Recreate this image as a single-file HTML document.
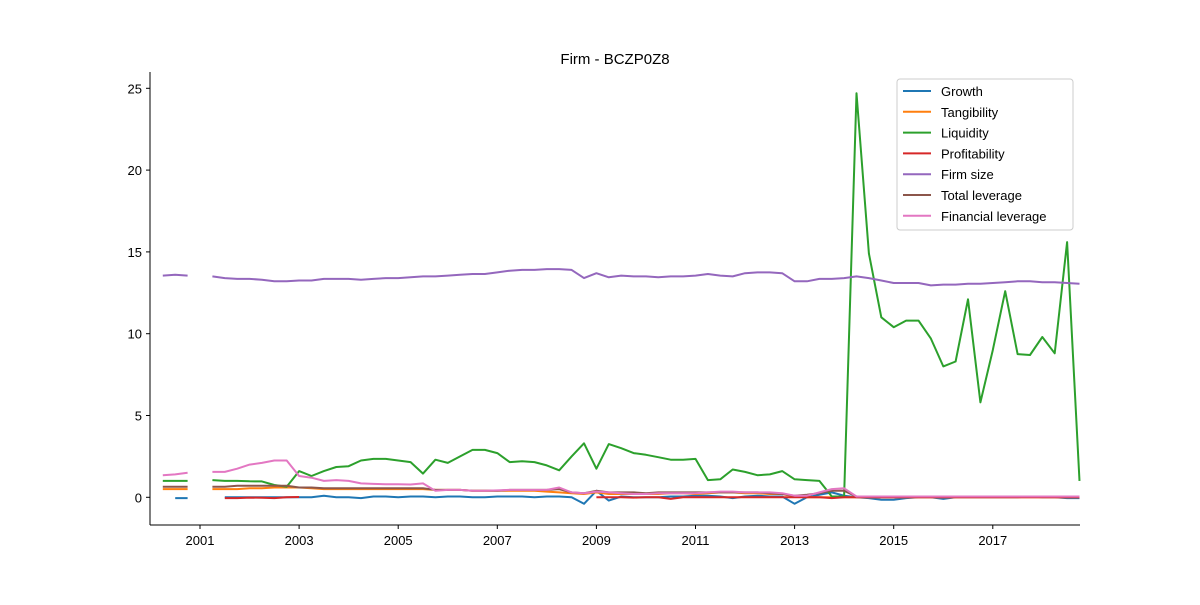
<!DOCTYPE html>
<html><head><meta charset="utf-8"><style>
body{margin:0;background:#fff;}
svg text{font-family:"Liberation Sans","DejaVu Sans",sans-serif;}
</style></head><body>
<svg id="chart" width="1200" height="600" xmlns="http://www.w3.org/2000/svg">
<rect width="1200" height="600" fill="#fff"/>
<text x="615" y="64" font-size="15" text-anchor="middle">Firm - BCZP0Z8</text>
<g id="plot"></g>
<g id="axes"></g>
<g id="legend"></g>
</svg>
<script>
const N = null;
const startYear = 2000.25;
const seriesNames = ["Growth","Tangibility","Liquidity","Profitability","Firm size","Total leverage","Financial leverage"];
const seriesColors = ["#1f77b4","#ff7f0e","#2ca02c","#d62728","#9467bd","#8c564b","#e377c2"];
const growth = [N,-0.05,-0.05,N,N,0,0,0,0,0,0,0,0,0.1,0,0,-0.05,0.05,0.05,0,0.05,0.05,0,0.05,0.05,0,0,0.05,0.05,0.05,0,0.05,0.05,0,-0.4,0.4,-0.2,0.05,0,0,0,0.05,0.05,0.1,0.1,0.05,-0.05,0.05,0.1,0.05,0.05,-0.4,0,0.15,0.3,0.1,0,-0.05,-0.15,-0.15,-0.05,0,0,-0.1,0,0,0,0,0,0,0.05,0,0,-0.05,-0.05];
const tangibility = [0.5,0.5,0.5,N,0.5,0.5,0.5,0.55,0.55,0.6,0.6,0.6,0.55,0.5,0.5,0.5,0.5,0.5,0.5,0.5,0.5,0.5,0.45,0.45,0.45,0.4,0.4,0.4,0.4,0.4,0.4,0.35,0.3,0.25,0.2,0.3,0.2,0.2,0.2,0.2,0.2,0.25,0.25,0.2,0.25,0.3,0.3,0.25,0.25,0.2,0.2,0.05,0,0,0,0,0,0,0,0,0,0,0,0,0,0,0,0,0,0,0,0,0,0,0];
const liquidity = [1.0,1.0,1.0,N,1.05,1.0,1.0,0.98,0.97,0.75,0.65,1.6,1.3,1.6,1.85,1.9,2.25,2.35,2.35,2.25,2.15,1.45,2.3,2.1,2.5,2.9,2.9,2.7,2.15,2.2,2.15,1.95,1.65,2.5,3.3,1.75,3.25,3.0,2.7,2.6,2.45,2.3,2.3,2.35,1.05,1.1,1.7,1.55,1.35,1.4,1.6,1.1,1.05,1.0,0.05,0.05,24.7,14.9,11.0,10.4,10.8,10.8,9.7,8.0,8.3,12.1,5.8,9.0,12.6,8.75,8.7,9.8,8.8,15.6,1.0];
const profitability = [N,N,N,N,N,-0.05,-0.05,-0.02,-0.03,-0.05,0,0.02,N,N,N,N,N,N,N,N,N,N,N,N,N,N,N,N,N,N,N,N,N,N,N,0,0,0,-0.02,0,0,-0.1,0,0,0,0,0,0,0,0,0,0,0,0,-0.05,0,0,0,0,0,0,0,0,0,0,0,0,0,0,0,0,0,0,0,0];
const firmSize = [13.55,13.6,13.55,N,13.5,13.4,13.35,13.35,13.3,13.2,13.2,13.25,13.25,13.35,13.35,13.35,13.3,13.35,13.4,13.4,13.45,13.5,13.5,13.55,13.6,13.65,13.65,13.75,13.85,13.9,13.9,13.95,13.95,13.9,13.4,13.7,13.45,13.55,13.5,13.5,13.45,13.5,13.5,13.55,13.65,13.55,13.5,13.7,13.75,13.75,13.7,13.2,13.2,13.35,13.35,13.4,13.5,13.4,13.25,13.1,13.1,13.1,12.95,13.0,13.0,13.05,13.05,13.1,13.15,13.2,13.2,13.15,13.15,13.1,13.05];
const totalLeverage = [0.65,0.65,0.65,N,0.65,0.65,0.7,0.7,0.7,0.7,0.7,0.6,0.6,0.55,0.55,0.55,0.55,0.55,0.55,0.55,0.55,0.55,0.45,0.45,0.45,0.4,0.4,0.4,0.45,0.45,0.45,0.45,0.5,0.3,0.25,0.4,0.3,0.3,0.3,0.25,0.3,0.3,0.3,0.3,0.3,0.3,0.3,0.3,0.3,0.25,0.2,0.1,0.15,0.25,0.4,0.4,0.05,0.05,0.05,0.05,0.05,0.05,0.05,0.05,0.05,0.05,0.05,0.05,0.05,0.05,0.05,0.05,0.05,0.05,0.05];
const financialLeverage = [1.35,1.4,1.5,N,1.55,1.55,1.75,2.0,2.1,2.25,2.25,1.3,1.2,1.0,1.05,1.0,0.85,0.82,0.8,0.8,0.78,0.85,0.4,0.45,0.45,0.4,0.4,0.42,0.45,0.45,0.45,0.45,0.6,0.3,0.25,0.35,0.3,0.25,0.2,0.2,0.25,0.25,0.25,0.25,0.3,0.35,0.35,0.3,0.3,0.3,0.25,0.1,0.1,0.3,0.5,0.55,0.05,0.05,0.05,0.05,0.05,0.05,0.05,0.05,0.05,0.05,0.05,0.05,0.05,0.05,0.05,0.05,0.05,0.05,0.05];
const xTickLabels = [2001,2003,2005,2007,2009,2011,2013,2015,2017];
const yTickLabels = [0,5,10,15,20,25];

const allSeries = [growth,tangibility,liquidity,profitability,firmSize,totalLeverage,financialLeverage];
const X0=150, X1=1080, Y0=525, Y1=72;
function xScale(yr){return 200 + (yr-2001)*49.55;}
function yScale(v){return 497.3 - v*16.36;}
const NS="http://www.w3.org/2000/svg";
const plot=document.getElementById('plot'), axes=document.getElementById('axes'), legend=document.getElementById('legend');
function mk(tag,attrs,parent){const e=document.createElementNS(NS,tag);for(const k in attrs)e.setAttribute(k,attrs[k]);parent.appendChild(e);return e;}

allSeries.forEach((s,si)=>{
  let d="", pen=false;
  s.forEach((v,i)=>{
    if(v===null){pen=false;return;}
    const x=xScale(startYear+i*0.25).toFixed(1), y=yScale(v).toFixed(1);
    d += (pen?"L":"M")+x+","+y; pen=true;
  });
  const p=mk('path',{d:d,fill:'none',stroke:seriesColors[si],'stroke-width':2,'stroke-linejoin':'round'},plot);
  
  
});

const ls=mk('line',{x1:X0,y1:Y1,x2:X0,y2:Y0,stroke:'#000','stroke-width':1},axes);


const bs=mk('line',{x1:X0,y1:Y0,x2:X1,y2:Y0,stroke:'#000','stroke-width':1},axes);


yTickLabels.forEach(v=>{
  const y=yScale(v);
  mk('line',{x1:X0-4,y1:y,x2:X0,y2:y,stroke:'#000'},axes);
  const t=mk('text',{x:X0-8,y:y+5,'font-size':13,'text-anchor':'end'},axes);
  t.textContent=v;
  
  
});
xTickLabels.forEach(v=>{
  const x=xScale(v);
  mk('line',{x1:x,y1:Y0,x2:x,y2:Y0+4,stroke:'#000'},axes);
  const t=mk('text',{x:x,y:Y0+20,'font-size':13,'text-anchor':'middle'},axes);
  t.textContent=v;
  
  
});

mk('rect',{x:897,y:79,width:176,height:151,rx:3,fill:'#fff','fill-opacity':0.8,stroke:'#ccc'},legend);
seriesNames.forEach((n,i)=>{
  const y=91+i*20.8;
  const g=mk('g',{},legend);
  
  
  mk('line',{x1:903,y1:y,x2:931,y2:y,stroke:seriesColors[i],'stroke-width':2},g);
  const t=mk('text',{x:941,y:y+5,'font-size':13},g);
  t.textContent=n;
});
</script>
</body></html>
